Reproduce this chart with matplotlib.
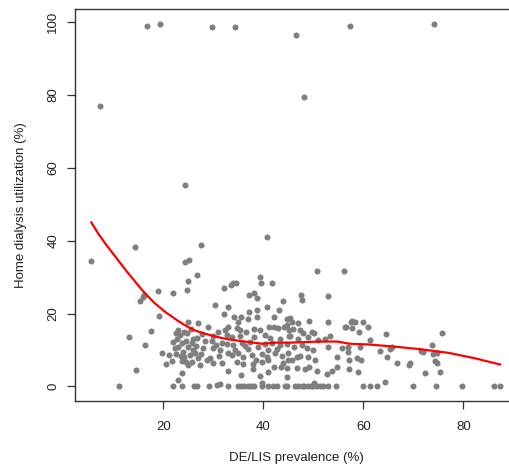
import matplotlib
matplotlib.use('Agg')
import matplotlib.pyplot as plt
import numpy as np

plt.rcParams['font.family'] = ['Liberation Sans', 'DejaVu Sans']

# scatter points: (DE/LIS %, home dialysis %)
outlier_pts = [
    (16.7, 99.0), (19.3, 99.6), (29.7, 98.8), (34.3, 98.8), (46.5, 96.6),
    (57.3, 99.0), (74.1, 99.6), (48.1, 79.5), (7.3, 77.0), (24.3, 55.3),
    (5.5, 34.5), (40.7, 41.1), (14.3, 38.4), (27.5, 38.8), (24.3, 34.1),
    (25.1, 34.7), (25.0, 29.0), (26.8, 30.6), (18.9, 26.3), (21.9, 25.7),
    (24.8, 26.5), (15.9, 24.5), (15.3, 23.4), (16.2, 25.1), (19.1, 19.4),
    (17.5, 15.3), (13.1, 13.6), (16.4, 11.3), (14.6, 4.5), (11.1, 0.0),
    (19.8, 9.1), (21.2, 8.7), (20.5, 6.0), (22.0, 0.0), (23.7, 0.0),
    (23.7, 3.6), (23.0, 1.7), (26.1, 0.0), (26.8, 0.0), (29.1, 0.0),
    (30.8, 0.3), (31.3, 0.6), (33.0, 0.0), (27.3, 5.9), (29.9, 6.3),
    (29.0, 16.2), (32.1, 26.9), (34.0, 28.3), (34.5, 28.5), (30.3, 22.3),
    (32.1, 20.0), (32.9, 21.9),
]

low_pts = [
    (25.0, 17.7), (26.9, 17.5), (23.0, 15.5), (22.5, 14.7), (24.1, 15.0),
    (24.8, 14.6), (31.0, 15.0), (30.0, 13.8), (28.3, 12.5), (26.0, 12.9),
    (26.8, 13.2), (25.7, 11.8), (25.0, 10.9), (23.0, 10.9), (22.3, 10.4),
    (23.5, 8.3), (24.1, 8.0), (25.3, 8.6), (26.0, 10.0), (26.3, 9.2),
    (27.0, 7.7), (24.5, 6.8), (23.7, 7.0), (25.7, 6.8), (29.7, 12.5),
    (30.5, 11.3), (31.7, 11.8), (32.7, 14.1), (32.3, 15.5), (31.3, 10.0),
    (30.0, 10.4), (31.2, 8.3), (29.3, 7.7), (28.7, 7.2), (31.7, 6.3),
    (32.9, 9.1), (21.7, 7.0), (22.8, 13.0), (24.5, 12.5), (23.8, 11.8),
    (27.8, 14.5), (28.0, 10.5), (27.5, 9.0), (22.0, 12.2), (24.0, 9.5),
    (23.3, 14.2), (25.5, 15.8), (26.5, 11.0), (22.6, 9.0), (25.0, 5.8),
]

mid_pts = [
    (39.3, 29.9), (39.5, 28.3), (41.8, 28.5), (33.5, 27.8), (37.1, 25.1),
    (38.2, 25.7), (38.7, 24.2), (40.7, 21.9), (43.1, 21.0), (44.0, 23.5),
    (37.1, 20.5), (38.7, 21.0), (34.2, 19.0), (35.5, 19.1), (34.9, 17.7),
    (36.9, 18.4), (38.7, 19.0), (42.2, 19.1), (44.7, 18.4), (33.0, 16.4),
    (34.7, 15.9), (35.3, 15.5), (38.2, 15.7), (39.3, 15.5), (41.1, 16.2),
    (42.2, 16.4), (43.0, 15.9), (44.2, 16.2), (45.1, 15.5), (33.7, 13.6),
    (35.3, 13.8), (38.2, 13.5), (40.3, 14.1), (41.3, 13.2), (43.3, 12.9),
    (45.1, 13.8), (32.7, 11.6), (34.0, 11.3), (35.7, 12.0), (37.3, 12.3),
    (39.0, 10.9), (40.3, 11.6), (41.7, 12.0), (43.3, 11.3), (44.7, 11.6),
    (33.8, 8.6), (35.0, 9.1), (36.0, 8.1), (37.7, 8.6), (39.7, 8.9),
    (40.7, 8.1), (42.3, 9.2), (43.7, 8.3), (44.9, 9.1), (34.7, 6.8),
    (36.0, 6.1), (38.0, 6.1), (39.7, 6.8), (40.9, 7.2), (42.2, 5.4),
    (44.0, 6.3), (45.0, 7.2), (33.0, 4.3), (35.5, 3.1), (38.0, 4.7),
    (39.3, 2.8), (40.9, 4.0), (43.5, 5.4), (44.7, 2.6), (39.8, 0.8),
    (36.5, 14.8), (37.0, 10.2), (42.8, 10.3), (36.3, 11.0), (41.0, 10.0),
    (38.5, 7.3), (34.3, 10.0),
    (34.9, 0.0), (35.5, 0.0), (36.2, 0.0), (36.9, 0.0), (37.5, 0.0),
    (38.2, 0.0), (39.8, 0.0), (41.0, 0.0), (42.0, 0.0), (42.7, 0.0),
    (44.3, 0.0),
]

upper_pts = [
    (50.8, 31.8), (56.2, 31.8), (47.5, 25.1), (47.7, 23.7), (53.0, 24.8),
    (45.3, 18.7), (45.7, 17.7), (44.7, 16.8), (47.0, 17.3), (49.1, 18.0),
    (53.0, 17.7), (56.3, 16.2), (57.5, 17.7), (46.0, 15.7), (47.3, 15.5),
    (48.0, 14.6), (49.7, 15.0), (50.2, 14.6), (52.3, 12.9), (53.3, 13.8),
    (49.0, 13.5), (46.9, 12.9), (45.3, 13.8), (51.0, 12.7), (46.2, 10.9),
    (47.7, 11.3), (48.7, 10.4), (50.0, 10.0), (52.9, 10.7), (55.7, 10.4),
    (56.9, 10.9), (45.7, 7.2), (46.7, 8.0), (47.3, 8.3), (48.9, 8.1),
    (50.3, 7.2), (54.7, 8.0), (57.1, 7.2), (44.7, 4.9), (46.7, 4.9),
    (48.3, 4.7), (49.1, 5.4), (50.7, 4.3), (52.7, 3.4), (53.7, 4.3),
    (54.7, 5.2), (50.2, 0.8),
    (44.7, 0.0), (46.3, 0.0), (47.0, 0.0), (47.7, 0.0), (48.2, 0.0),
    (48.9, 0.0), (49.5, 0.0), (50.0, 0.0), (50.7, 0.0), (51.3, 0.0),
    (52.0, 0.0), (53.0, 0.0), (54.5, 0.0),
]

high_pts = [
    (57.8, 18.0), (58.3, 17.7), (60.0, 17.7), (56.5, 16.2), (57.7, 15.9),
    (59.1, 15.0), (60.9, 16.2), (64.5, 14.4), (61.3, 12.7), (56.9, 9.5),
    (59.3, 10.7), (63.3, 9.8), (65.3, 10.2), (65.8, 10.9), (64.7, 8.1),
    (66.7, 6.3), (69.1, 5.9), (69.3, 6.3), (58.7, 7.7), (59.5, 7.2),
    (57.1, 4.7), (58.9, 3.9), (64.3, 1.3),
    (60.0, 0.0), (61.3, 0.0), (62.7, 0.0), (70.0, 0.0),
    (75.7, 14.7), (73.8, 11.3), (71.5, 9.8), (72.0, 9.5), (74.0, 8.9),
    (74.7, 9.1), (74.3, 7.0), (74.7, 6.5), (72.3, 3.7), (75.3, 4.0),
    (74.5, 0.0), (79.8, 0.0), (86.2, 0.0), (87.3, 0.0),
]

# smooth (lowess) curve
curve_x = [5.6, 7.0, 8.5, 10.3, 11.7, 13.0, 14.4, 15.7, 17.0, 18.3, 20.3,
           22.7, 24.3, 26.0, 27.7, 29.3, 31.0, 33.0, 36.3, 39.7, 42.3, 45.3,
           51.0, 54.7, 57.3, 61.0, 66.3, 71.3, 77.0, 82.3, 87.3]
curve_y = [45.0, 41.9, 39.0, 35.8, 33.3, 31.0, 28.7, 26.5, 24.6, 22.8, 20.5,
           18.2, 16.8, 15.5, 14.7, 14.1, 13.5, 12.9, 12.3, 11.7, 12.0, 12.0,
           12.3, 12.3, 11.7, 11.5, 10.9, 10.2, 9.2, 7.7, 6.0]

pts = np.array(outlier_pts + low_pts + mid_pts + upper_pts + high_pts)

fig = plt.figure(figsize=(5.09, 4.69), dpi=100)
ax = fig.add_axes([75 / 509, 68 / 469, 436 / 509, 391.7 / 469])

ax.scatter(pts[:, 0], pts[:, 1], s=19, color='#7f7f7f', linewidths=0, zorder=2)
ax.plot(curve_x, curve_y, color='#ff0000', lw=1.6, zorder=3)

ax.set_xlim(2.33, 89.5)
ax.set_ylim(-4.03, 103.57)
ax.set_xticks([20, 40, 60, 80])
ax.set_yticks([0, 20, 40, 60, 80, 100])

for s in ax.spines.values():
    s.set_color('#333333')
    s.set_linewidth(1.0)

ax.tick_params(direction='out', length=5.8, width=0.9, color='#333333',
               labelsize=9.5, labelcolor='#222222')
ax.tick_params(axis='x', pad=8.5)
ax.tick_params(axis='y', pad=5.5)
for lbl in ax.get_yticklabels():
    lbl.set_rotation(90)
    lbl.set_va('center')

ax.set_xlabel('DE/LIS prevalence (%)', fontsize=9.5, color='#222222')
ax.set_ylabel('Home dialysis utilization (%)', fontsize=9.5, color='#222222')
ax.xaxis.set_label_coords(0.507, -0.131)
ax.yaxis.set_label_coords(-0.11, 0.5)

fig.savefig('out.png', dpi=100)
